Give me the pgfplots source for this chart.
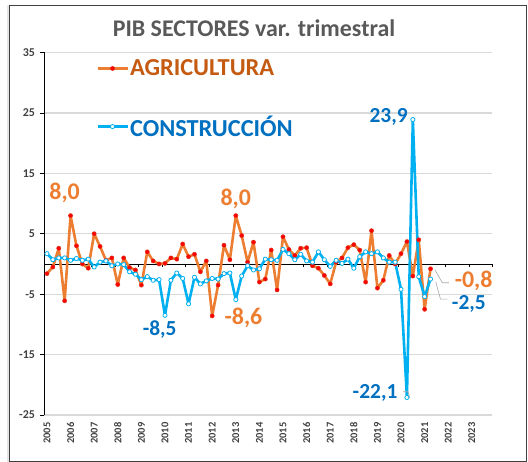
\documentclass[border=0pt]{standalone}
\usepackage{pgfplots}
\pgfplotsset{compat=1.18}
\usepackage{fontspec}
\setmainfont{Carlito}
\definecolor{agri}{HTML}{ED7D31}
\definecolor{agrimk}{HTML}{FF0000}
\definecolor{agrimkd}{HTML}{E0301A}
\definecolor{agritxt}{HTML}{C55A11}
\definecolor{cons}{HTML}{00B0F0}
\definecolor{constxt}{HTML}{0070C0}
\definecolor{titlec}{HTML}{595959}
\definecolor{tickc}{HTML}{404040}
\definecolor{gridc}{HTML}{D9D9D9}
\definecolor{leader}{HTML}{A6A6A6}
\begin{document}
\begin{tikzpicture}
\useasboundingbox (0,0) rectangle (528bp,462bp);
\fill[gray!20] (6.5bp,0bp) rectangle (9.5bp,457bp);
\draw[tickc, line width=0.8bp] (9.5bp,1bp) rectangle (526.5bp,457bp);
\begin{axis}[
  at={(44bp,47bp)}, anchor=south west,
  scale only axis, width=448.5bp, height=362.5bp,
  xmin=-0.5, xmax=75.5, ymin=-25, ymax=35,
  axis line style={draw=none},
  ytick={-25,-15,-5,5,15,25,35},
  yticklabels={-25,-15,-5,5,15,25,35},
  ymajorgrids, major grid style={gridc, line width=1.2bp},
  ytick pos=left, tick align=outside, major tick length=4bp,
  ytick style={black, line width=0.8bp},
  xtick={0,4,...,72},
  xticklabels={2005,2006,2007,2008,2009,2010,2011,2012,2013,2014,2015,2016,2017,2018,2019,2020,2021,2022,2023},
  xtick style={draw=none},
  xticklabel style={rotate=90, anchor=east, font=\fontsize{10.5}{12}\selectfont\bfseries, text=tickc},
  yticklabel style={font=\fontsize{12}{14}\selectfont\bfseries, text=tickc, xshift=-1.5bp},
  legend style={draw=none, fill=none, at={(axis description cs:0.116,0.984)}, anchor=north west,
    font=\fontsize{24.5}{28}\selectfont\bfseries, row sep=36bp, inner sep=0pt,
    nodes={inner sep=1.2bp}, cells={anchor=west}},
  legend image code/.code={\draw[mark repeat=2,mark phase=2,#1] plot coordinates {(0bp,0bp) (15bp,0bp) (30bp,0bp)};},
  clip=false,
]
\draw[black, line width=0.8bp] (rel axis cs:0,0) -- (rel axis cs:0,1);
\draw[black, line width=0.8bp] (axis cs:-0.5,0) -- (axis cs:75.5,0);
\pgfplotsinvokeforeach{1,...,19}{
  \draw[black, line width=0.6bp] (axis cs:{-0.5+4*#1},0) -- ([yshift=-3.5bp]axis cs:{-0.5+4*#1},0);
}
\addplot[agri, line width=2.6bp, line join=round, mark=*, mark size=2.1bp,
  mark options={fill=agrimk, draw=agrimkd, line width=0.5bp}] coordinates {
(0,-1.6)(1,-0.5)(2,2.6)(3,-6.1)(4,8.0)(5,3.0)(6,0.0)(7,-0.7)(8,5.0)(9,2.9)
(10,0.6)(11,1.0)(12,-3.4)(13,1.0)(14,-0.6)(15,-1.0)(16,-3.5)(17,2.0)(18,0.5)(19,0.0)
(20,0.1)(21,1.0)(22,0.8)(23,3.3)(24,1.2)(25,1.6)(26,-1.3)(27,0.5)(28,-8.6)(29,-3.5)
(30,3.1)(31,0.7)(32,8.0)(33,4.7)(34,0.3)(35,3.6)(36,-3.0)(37,-2.5)(38,2.3)(39,-4.3)
(40,4.5)(41,2.4)(42,1.4)(43,2.6)(44,2.7)(45,-0.3)(46,-0.7)(47,-1.9)(48,-3.3)(49,0.3)
(50,1.0)(51,2.7)(52,3.2)(53,2.3)(54,-3.0)(55,5.5)(56,-4.0)(57,-2.7)(58,1.4)(59,0.0)
(60,1.7)(61,3.7)(62,-2.0)(63,4.0)(64,-7.5)(65,-0.8)};
\addlegendentry{\bfseries\textcolor{agritxt}{AGRICULTURA}}
\addplot[cons, line width=2.6bp, line join=round, mark=*, mark size=2.1bp,
  mark options={fill=white, draw=cons, line width=0.8bp}] coordinates {
(0,1.7)(1,0.7)(2,1.0)(3,1.0)(4,0.6)(5,0.9)(6,0.6)(7,0.8)(8,-0.5)(9,0.3)
(10,0.5)(11,-0.3)(12,0.0)(13,-0.1)(14,-1.3)(15,-1.7)(16,-2.6)(17,-2.1)(18,-2.7)(19,-2.6)
(20,-8.5)(21,-2.7)(22,-1.5)(23,-2.4)(24,-6.6)(25,-2.2)(26,-3.3)(27,-2.8)(28,-2.4)(29,-2.5)
(30,-1.6)(31,-1.5)(32,-5.9)(33,-2.0)(34,-0.3)(35,-1.0)(36,-0.8)(37,0.8)(38,0.7)(39,0.6)
(40,2.4)(41,1.7)(42,0.7)(43,1.6)(44,0.5)(45,0.3)(46,2.0)(47,0.7)(48,-0.4)(49,0.6)
(50,0.1)(51,0.8)(52,-0.7)(53,1.2)(54,2.0)(55,1.7)(56,2.0)(57,1.0)(58,0.3)(59,0.3)
(60,-4.2)(61,-22.1)(62,23.9)(63,-2.1)(64,-5.4)(65,-2.5)};
\addlegendentry{\bfseries\textcolor{constxt}{CONSTRUCCIÓN}}
% data labels
\node[font=\fontsize{24}{28}\selectfont\bfseries, text=agri] at (axis cs:3.0,11.74) {8,0};
\node[font=\fontsize{24}{28}\selectfont\bfseries, text=agri] at (axis cs:32.0,10.7) {8,0};
\node[font=\fontsize{24}{28}\selectfont\bfseries, text=agri] at (axis cs:33.3,-8.96) {-8,6};
\node[font=\fontsize{24}{28}\selectfont\bfseries, text=agri, inner sep=0pt] at (axis cs:72.3,-2.85) {-0,8};
\node[font=\fontsize{21.5}{26}\selectfont\bfseries, text=constxt] at (axis cs:19.1,-10.78) {-8,5};
\node[font=\fontsize{21.5}{26}\selectfont\bfseries, text=constxt] at (axis cs:57.9,24.27) {23,9};
\node[font=\fontsize{21.5}{26}\selectfont\bfseries, text=constxt] at (axis cs:55.6,-21.42) {-22,1};
\node[font=\fontsize{21.5}{26}\selectfont\bfseries, text=constxt, inner sep=0pt] at (axis cs:71.5,-6.6) {-2,5};
\draw[leader, line width=0.6bp] (axis cs:65.76,-1.01) -- (axis cs:67.0,-3.11) -- (axis cs:68.1,-3.11);
\draw[leader, line width=0.6bp] (axis cs:65.88,-2.95) -- (axis cs:66.68,-5.81) -- (axis cs:67.86,-5.81);
\draw[leader, line width=0.6bp] (axis cs:60.34,-21.16) -- (axis cs:61.18,-21.16) -- (axis cs:61.47,-22.15);
\end{axis}
\node[font=\fontsize{24}{28}\selectfont\bfseries, text=titlec] at (254bp,434bp) {PIB SECTORES var. trimestral};
\end{tikzpicture}
\end{document}
